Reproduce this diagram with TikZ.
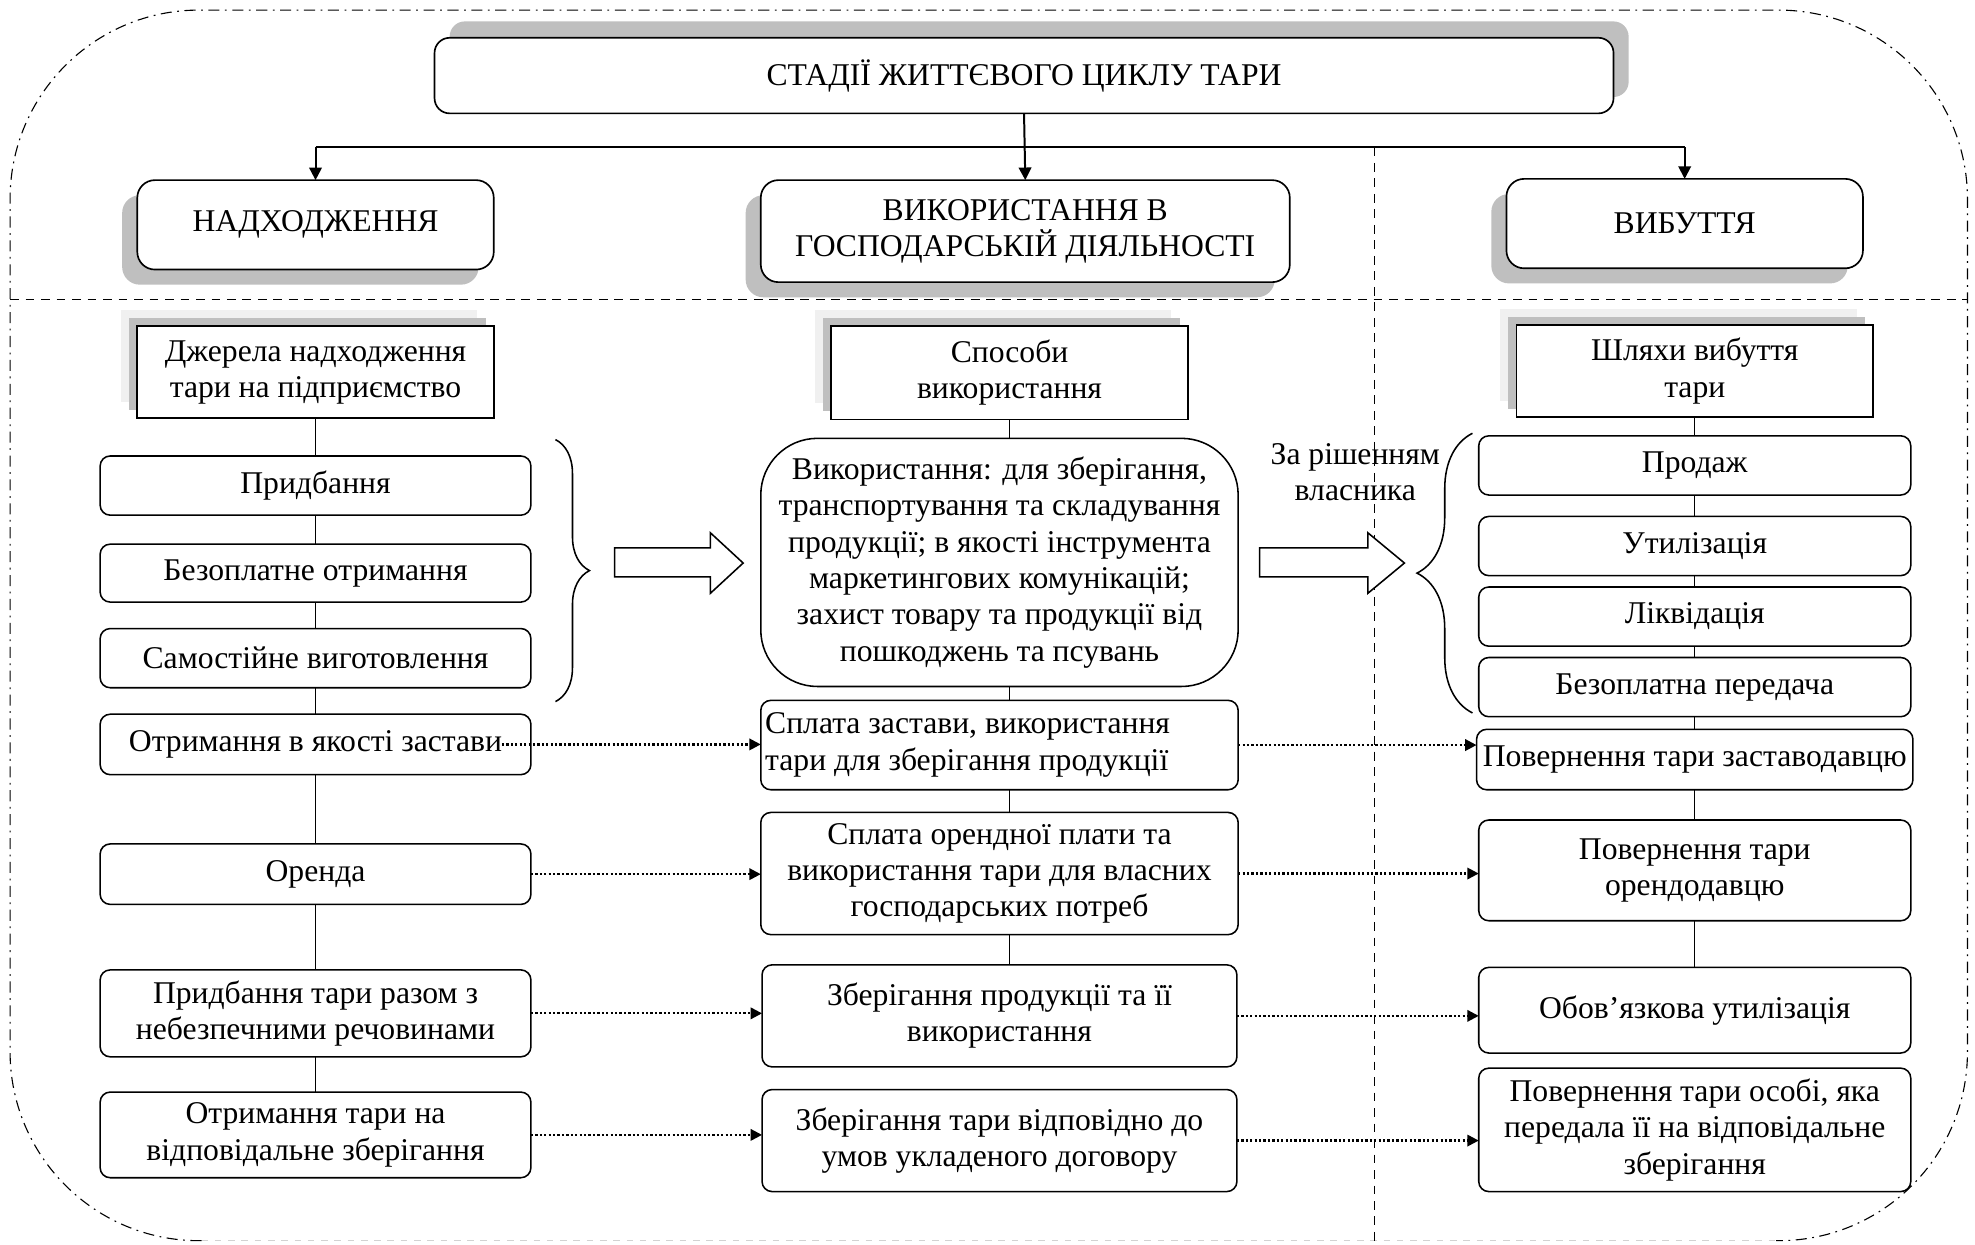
\documentclass[tikz,border=0pt]{standalone}
\usepackage{fontspec}
\setmainfont{Liberation Serif}
\usetikzlibrary{arrows.meta,positioning,calc,shadows,decorations.pathreplacing}
\definecolor{shGrey}{HTML}{BFBFBF}
\definecolor{shLight}{HTML}{F0F0F0}
\tikzset{
  >={Triangle[length=2mm,width=2mm]},
  headbox/.style ={rectangle,draw,line width=0.75pt,rounded corners=2.4mm,fill=white,align=center,inner sep=1mm,outer sep=0pt,
                   drop shadow={shadow xshift=2.4mm,shadow yshift=2.6mm,fill=shGrey,opacity=1}},
  stagebox/.style={rectangle,draw,line width=0.75pt,rounded corners=2.8mm,fill=white,align=center,inner sep=1mm,outer sep=0pt,
                   drop shadow={shadow xshift=-2.4mm,shadow yshift=-2.4mm,fill=shGrey,opacity=1}},
  secbox/.style  ={rectangle,draw,line width=0.75pt,fill=white,align=center,inner sep=1mm,outer sep=0pt,minimum width=56.6mm,minimum height=14.6mm,
                   drop shadow={shadow xshift=-2.6mm,shadow yshift=2.6mm,fill=shLight,opacity=1},
                   drop shadow={shadow xshift=-1.3mm,shadow yshift=1.3mm,fill=shGrey,opacity=1}},
  item/.style    ={rectangle,draw,line width=0.7pt,rounded corners=1.6mm,fill=white,align=center,inner sep=1mm,outer sep=0pt},
  lcol/.style    ={item,minimum width=68.4mm},
  mcol/.style    ={item,minimum width=75.8mm},
  rcol/.style    ={item,minimum width=68.6mm},
  link/.style    ={line width=0.5pt},
  busline/.style ={line width=0.9pt},
  flow/.style    ={->,line width=1pt,dash pattern=on 1pt off 1pt,>={Triangle[length=1.8mm,width=1.8mm]}},
  fatarrow/.style={draw,line width=0.7pt,fill=white},
  brc/.style     ={decorate,decoration={brace,amplitude=#1},line width=0.7pt},
  frame/.style   ={line width=0.5pt,dash pattern=on 5pt off 2.5pt on 0.8pt off 2.5pt},
  divider/.style ={line width=0.6pt,dash pattern=on 4pt off 3pt},
}

\begin{document}
\begin{tikzpicture}[x=0.2mm,y=-0.2mm,font=\fontsize{14.3}{16.4}\selectfont]
  \useasboundingbox (0,0) rectangle (1568,988);

  % outer frame
  \draw[frame,rounded corners=30mm] (160,985) -- (8,985) -- (8,8) -- (1562,8) -- (1562,985) -- (1410,985);
  \draw[line width=0.5pt,gray!35,dashed] (160,985) -- (1410,985);

  % stages
  \node[headbox,minimum width=187.2mm,minimum height=12mm] (stages) at (813,60)
        {СТАДІЇ ЖИТТЄВОГО ЦИКЛУ ТАРИ};
  \node[stagebox,minimum width=56.6mm,minimum height=14.2mm] (inc) at (250.5,178.5)
        {НАДХОДЖЕННЯ};
  \node[stagebox,minimum width=84mm,minimum height=16.2mm] (usage) at (814,183.5)
        {ВИКОРИСТАННЯ В\\ГОСПОДАРСЬКІЙ ДІЯЛЬНОСТІ};
  \node[stagebox,minimum width=56.6mm,minimum height=14.2mm] (outg) at (1337.5,177.5)
        {ВИБУТТЯ};

  \coordinate (bus) at (813,117);
  \draw[busline] (inc.north |- bus) -- (outg.north |- bus);
  \draw[busline,->] (stages.south) -- (usage.north);
  \draw[busline,->] (inc.north |- bus) -- (inc.north);
  \draw[busline,->] (outg.north |- bus) -- (outg.north);

  % dividers
  \draw[divider] (8,238) -- (1562,238);
  \draw[divider] (1091,117) -- (1091,985);

  % section heads
  \node[secbox,below=9mm of inc] (src) {Джерела надходження\\тари на підприємство};
  \node[secbox,below=7mm of usage,xshift=-2.5mm,minimum height=14.8mm] (ways) {Способи\\використання};
  \node[secbox,below=9mm of outg,xshift=1.6mm] (exits) {Шляхи вибуття\\тари};

  % sources
  \node[lcol,below=6mm of src,minimum height=9.4mm] (buy) {Придбання};
  \node[lcol,below=4.6mm of buy,minimum height=9.2mm] (free) {Безоплатне отримання};
  \node[lcol,below=4.2mm of free,minimum height=9.4mm] (self) {Самостійне виготовлення};
  \node[lcol,below=4.2mm of self,minimum height=9.6mm] (pledge) {Отримання в якості застави};
  \node[lcol,below=11mm of pledge,minimum height=9.6mm] (rent) {Оренда};
  \node[lcol,below=10.4mm of rent,minimum height=13.8mm] (hazard) {Придбання тари разом з\\небезпечними речовинами};
  \node[lcol,below=5.6mm of hazard,minimum height=13.6mm] (custody) {Отримання тари на\\відповідальне зберігання};

  % ways of use
  \node[mcol,below=3mm of ways,xshift=-1.6mm,minimum height=39.4mm,rounded corners=9mm] (usebox)
        {Використання: для зберігання,\\транспортування та складування\\продукції; в якості інструмента\\маркетингових комунікацій;\\захист товару та продукції від\\пошкоджень та псувань};
  \node[mcol,below=2.2mm of usebox,minimum height=14.2mm,align=flush left,text width=74.4mm,inner xsep=0.7mm] (payp)
        {Сплата застави, використання\\тари для зберігання продукції};
  \node[mcol,below=3.6mm of payp,minimum height=19.4mm] (payr)
        {Сплата орендної плати та\\використання тари для власних\\господарських потреб};
  \node[mcol,below=4.8mm of payr,minimum width=75.4mm,minimum height=16.2mm] (sprod)
        {Зберігання продукції та її\\використання};
  \node[mcol,below=3.6mm of sprod,minimum width=75.4mm,minimum height=16.2mm] (scont)
        {Зберігання тари відповідно до\\умов укладеного договору};

  % ways out
  \node[rcol,below=3mm of exits,minimum height=9.4mm] (sale) {Продаж};
  \node[rcol,below=3.4mm of sale,minimum height=9.4mm] (util) {Утилізація};
  \node[rcol,below=1.8mm of util,minimum height=9.4mm] (liq) {Ліквідація};
  \node[rcol,below=1.8mm of liq,minimum height=9.4mm] (gift) {Безоплатна передача};
  \node[rcol,below=2mm of gift,minimum height=9.6mm] (retp) {Повернення тари заставодавцю};
  \node[rcol,below=4.8mm of retp,minimum height=16mm] (retr) {Повернення тари\\орендодавцю};
  \node[rcol,below=7.4mm of retr,minimum height=13.6mm] (mutil) {Обов’язкова утилізація};
  \node[rcol,below=2.4mm of mutil,minimum height=19.6mm] (retc)
        {Повернення тари особі, яка\\передала її на відповідальне\\зберігання};

  % column links
  \draw[link] (src.south) -- (src.south |- buy.north)
              (src.south |- buy.south) -- (src.south |- free.north)
              (src.south |- free.south) -- (src.south |- self.north)
              (src.south |- self.south) -- (src.south |- pledge.north)
              (src.south |- pledge.south) -- (src.south |- rent.north)
              (src.south |- rent.south) -- (src.south |- hazard.north)
              (src.south |- hazard.south) -- (src.south |- custody.north);
  \draw[link] (ways.south) -- (ways.south |- usebox.north)
              (ways.south |- usebox.south) -- (ways.south |- payp.north)
              (ways.south |- payp.south) -- (ways.south |- payr.north)
              (ways.south |- payr.south) -- (ways.south |- sprod.north);
  \draw[link] (exits.south) -- (exits.south |- sale.north)
              (exits.south |- sale.south) -- (exits.south |- util.north)
              (exits.south |- util.south) -- (exits.south |- liq.north)
              (exits.south |- liq.south) -- (exits.south |- gift.north)
              (exits.south |- gift.south) -- (exits.south |- retp.north)
              (exits.south |- retp.south) -- (exits.south |- retr.north)
              (exits.south |- retr.south) -- (exits.south |- mutil.north);

  % braces and block arrows
  \draw[brc=5.4mm] (441,349) -- (441,557);
  \draw[brc=8.8mm] (1169,566) -- (1169,344);
  \draw[fatarrow] (488,435) -- (564,435) -- (564,423) -- (590,447) -- (564,471) -- (564,458) -- (488,458) -- cycle;
  \draw[fatarrow] (1000,435) -- (1086,435) -- (1086,423) -- (1115,447) -- (1086,471) -- (1086,458) -- (1000,458) -- cycle;
  \node[align=center] (owner) at (1076,375) {За рішенням\\власника};

  % dotted flows
  \draw[flow] ($(pledge.east)+(-4.6mm,0)$) -- (payp.west |- pledge.east);
  \draw[flow] (payp.east) -- (retp.west |- payp.east);
  \draw[flow] (rent.east) -- (payr.west |- rent.east);
  \draw[flow] (payr.east) -- (retr.west |- payr.east);
  \draw[flow] (hazard.east) -- (sprod.west |- hazard.east);
  \draw[flow] (sprod.east) -- (mutil.west |- sprod.east);
  \draw[flow] (custody.east) -- (scont.west |- custody.east);
  \draw[flow] (scont.east) -- (retc.west |- scont.east);
\end{tikzpicture}
\end{document}
